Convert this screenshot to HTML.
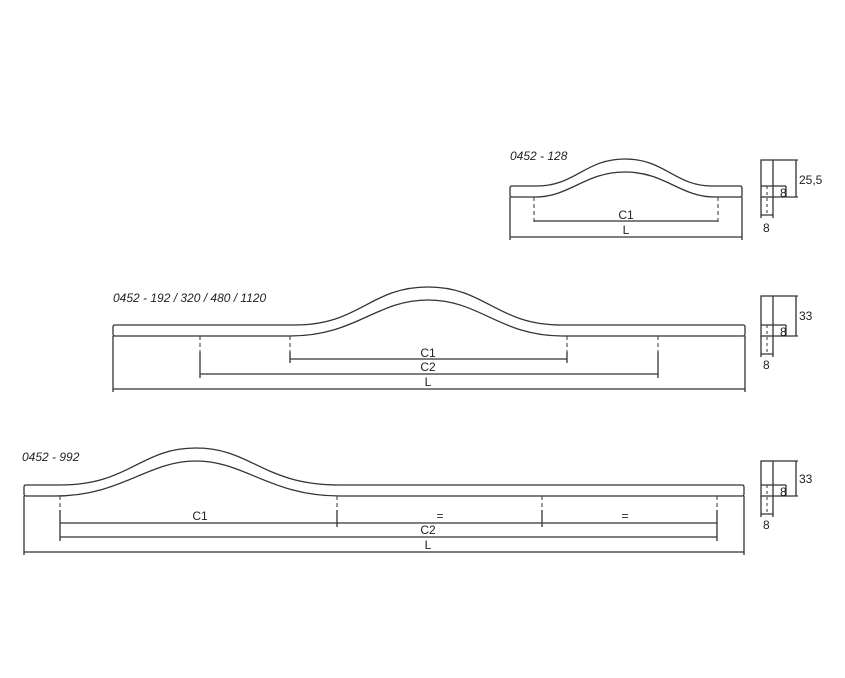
<!DOCTYPE html>
<html><head><style>body{margin:0;background:#fff}svg{display:block}text{font-family:"Liberation Sans",sans-serif;fill:#222}</style></head><body>
<svg width="845" height="678" viewBox="0 0 845 678" xmlns="http://www.w3.org/2000/svg">
<g fill="none" stroke="#333" stroke-width="1.3">
<path d="M512 186 H537 C575 186 585 159 625 159 C665 159 675 186 712 186 H740 Q742 186 742 188 V195 Q742 197 740 197 H715 C680 197 665 172 625 172 C585 172 570 197 535 197 H512 Q510 197 510 195 V188 Q510 186 512 186Z"/>
<path d="M510 197 V240 M742 197 V240 M510 237 H742 M534 221 H718"/>
<path d="M534 197 V224 M718 197 V224" stroke-dasharray="4,3" stroke-width="1"/>
<rect x="761" y="160" width="12" height="37"/><path d="M761 186 H786 M773 160 H798 M773 197 H798 M796 160 V197 M786 186 V197 M761 197 V218 M773 197 V218 M761 215 H773"/>
<path d="M767 186 V215" stroke-dasharray="3,3" stroke-width="1"/>
<path d="M115 325 H295 C360 325 370 287 428 287 C486 287 496 325 562 325 H743 Q745 325 745 327 V334 Q745 336 743 336 H562 C500 336 480 300 428 300 C376 300 356 336 290 336 H115 Q113 336 113 334 V327 Q113 325 115 325Z"/>
<path d="M113 336 V392 M745 336 V392 M113 389 H745 M290 359 H567 M200 374 H658 M290 352 V363 M567 352 V363 M200 352 V378 M658 352 V378"/>
<path d="M200 336 V352 M290 336 V352 M567 336 V352 M658 336 V352" stroke-dasharray="4,3" stroke-width="1"/>
<rect x="761" y="296" width="12" height="40"/><path d="M761 325 H786 M773 296 H798 M773 336 H798 M796 296 V336 M786 325 V336 M761 336 V357 M773 336 V357 M761 354 H773"/>
<path d="M767 325 V354" stroke-dasharray="3,3" stroke-width="1"/>
<path d="M26 485 H60 C130 485 140 448 196 448 C252 448 262 485 340 485 H742 Q744 485 744 487 V494 Q744 496 742 496 H340 C270 496 245 461 196 461 C147 461 122 496 55 496 H26 Q24 496 24 494 V487 Q24 485 26 485Z"/>
<path d="M24 496 V555 M744 496 V555 M24 552 H744 M60 523 H717 M60 537 H717 M60 510 V541 M717 510 V541 M337 510 V527 M542 510 V527"/>
<path d="M60 496 V510 M337 496 V510 M542 496 V510 M717 496 V510" stroke-dasharray="4,3" stroke-width="1"/>
<rect x="761" y="461" width="12" height="35"/><path d="M761 485 H786 M773 461 H798 M773 496 H798 M796 461 V496 M786 485 V496 M761 496 V517 M773 496 V517 M761 514 H773"/>
<path d="M767 485 V514" stroke-dasharray="3,3" stroke-width="1"/>
</g>
<g font-size="12">
<text x="510" y="160" font-style="italic">0452 - 128</text>
<text x="626" y="219" text-anchor="middle">C1</text>
<text x="626" y="234" text-anchor="middle">L</text>
<text x="799" y="184">25,5</text><text x="780" y="197">8</text><text x="763" y="232">8</text>
<text x="113" y="302" font-style="italic">0452 - 192 / 320 / 480 / 1120</text>
<text x="428" y="357" text-anchor="middle">C1</text>
<text x="428" y="371" text-anchor="middle">C2</text>
<text x="428" y="386" text-anchor="middle">L</text>
<text x="799" y="320">33</text><text x="780" y="336">8</text><text x="763" y="369">8</text>
<text x="22" y="461" font-style="italic">0452 - 992</text>
<text x="200" y="520" text-anchor="middle">C1</text>
<text x="440" y="520" text-anchor="middle">=</text>
<text x="625" y="520" text-anchor="middle">=</text>
<text x="428" y="534" text-anchor="middle">C2</text>
<text x="428" y="549" text-anchor="middle">L</text>
<text x="799" y="483">33</text><text x="780" y="496">8</text><text x="763" y="529">8</text>
</g>
</svg>
</body></html>
